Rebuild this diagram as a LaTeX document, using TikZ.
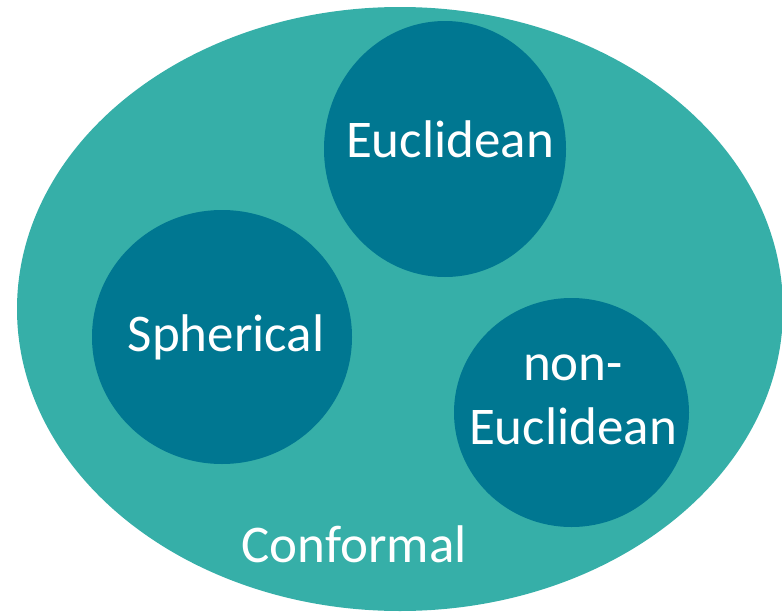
\documentclass[tikz,border=0pt]{standalone}
\usepackage{fontspec}
\setmainfont{Carlito}
\usetikzlibrary{shapes.geometric}
\definecolor{outerteal}{RGB}{54,175,168}
\definecolor{innerteal}{RGB}{0,119,145}
\tikzset{
  blob/.style={ellipse, fill=innerteal, inner sep=0pt},
  lbl/.style={text=white, font=\fontsize{53}{60}\selectfont, align=center, inner sep=0pt}
}
\begin{document}
\begin{tikzpicture}[x=1pt,y=-1pt]
		\useasboundingbox (0,0) rectangle (782,613);
		\node (conf) at (400,309) [ellipse, fill=outerteal, minimum width=766pt, minimum height=604pt, inner sep=0pt] {};
		\node (euc) at (445,149) [blob, minimum width=242pt, minimum height=256pt] {};
		\node (sph) at (222,337) [blob, minimum width=260pt, minimum height=254pt] {};
		\node (neuc) at (571.5,412.5) [blob, minimum width=235pt, minimum height=229pt] {};
		\node (euctxt) at (450,139) [lbl] {Euclidean};
		\node (sphtxt) at (226,337) [lbl] {Spherical};
		\node (neuctxt) at (573,400) [lbl] {non-\\[4pt]Euclidean};
		\node (conftxt) at (354,544) [lbl] {Conformal};
		\end{tikzpicture}
\end{document}
